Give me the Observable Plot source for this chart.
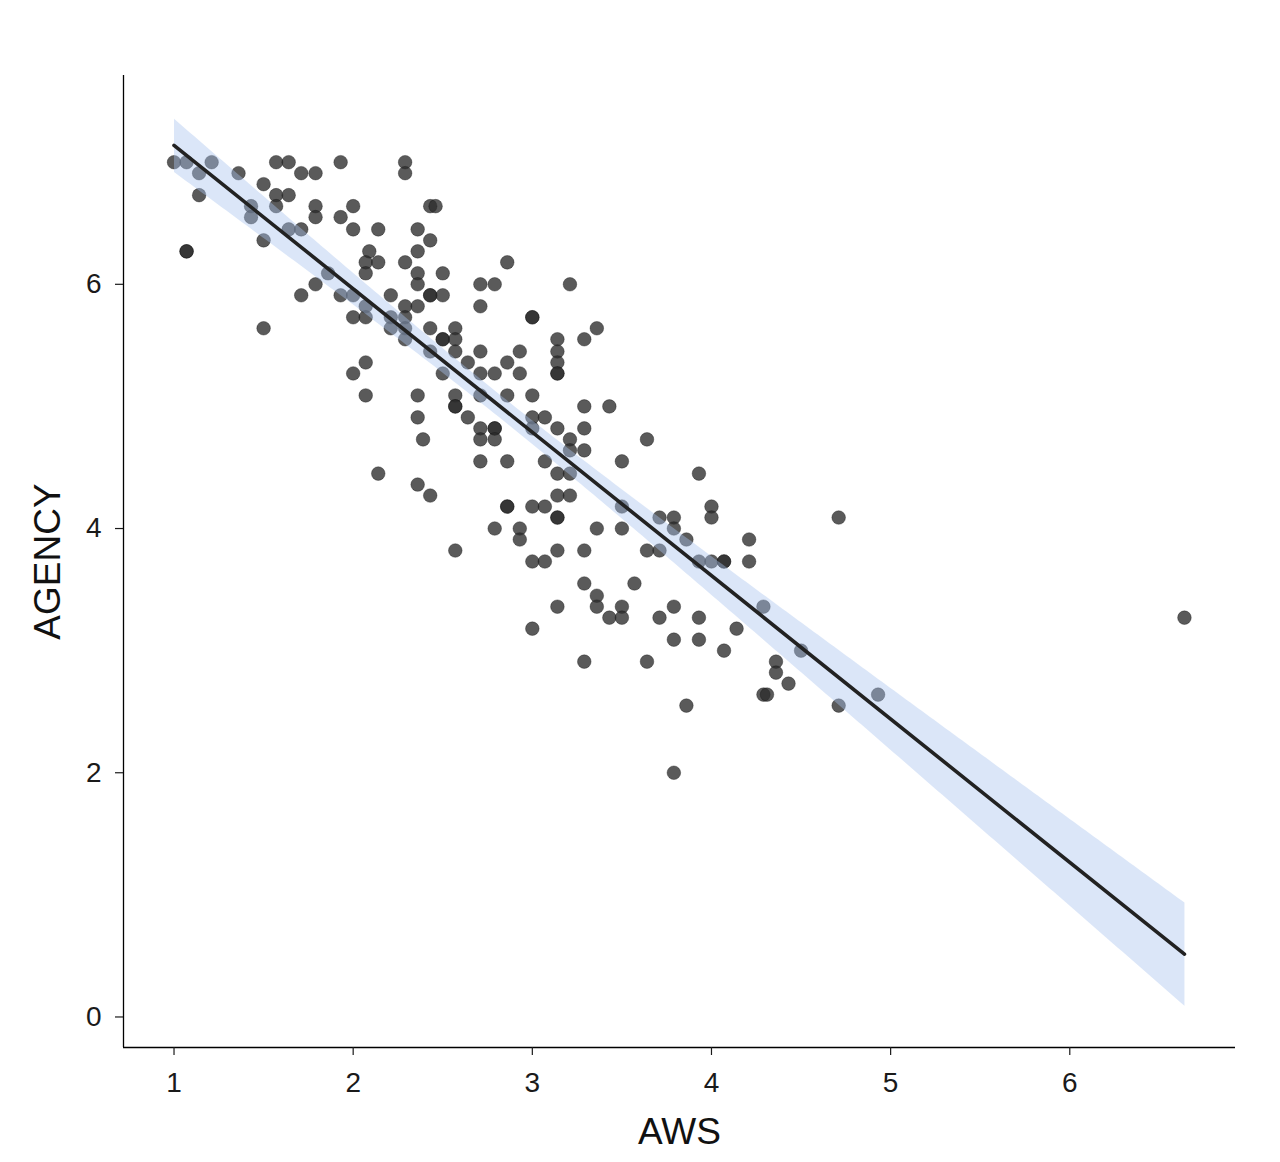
<!DOCTYPE html>
<html><head><meta charset="utf-8">
<script src="https://cdn.jsdelivr.net/npm/d3@7"></script>
<script src="https://cdn.jsdelivr.net/npm/@observablehq/plot@0.6"></script>
<style>body{margin:0;background:#fff;}</style>
</head><body><div id="chart"></div>
<script>
// AWS (x) and AGENCY (y) values
const aws = [
1.00,1.07,1.21,1.14,1.36,1.14,1.07,1.07,1.50,1.57,
1.64,1.71,1.79,1.93,1.57,1.64,1.43,1.57,1.79,1.79,
1.43,1.93,2.00,1.64,1.71,2.00,2.14,1.50,2.09,2.07,
2.14,2.07,2.29,1.86,1.79,1.71,1.93,2.00,2.07,2.21,
2.00,2.07,2.21,2.21,1.50,2.07,2.29,2.29,2.43,2.46,
2.36,2.43,2.36,2.36,2.50,2.36,2.43,2.43,2.50,2.29,
2.36,2.86,2.71,2.79,3.21,2.71,3.00,3.00,2.29,2.43,
2.57,2.50,2.50,2.57,2.57,2.71,2.93,3.14,3.14,3.29,
3.36,2.29,2.29,2.43,3.14,3.14,3.14,2.64,2.86,2.50,
2.71,2.79,2.93,2.36,2.57,2.57,2.57,2.71,2.86,3.00,
3.29,3.43,2.36,2.64,3.00,3.07,3.00,2.71,2.79,2.79,
3.14,3.29,2.39,2.71,2.79,3.21,3.21,3.29,2.71,2.86,
3.07,3.50,3.14,3.21,3.64,2.36,2.43,3.14,3.21,3.50,
2.86,2.86,3.00,3.07,3.14,3.14,2.79,2.93,2.93,3.36,
3.50,2.57,3.14,3.29,3.00,3.07,2.00,2.07,2.14,3.93,
4.00,4.00,4.71,3.71,3.79,3.79,3.86,4.21,3.64,3.71,
3.93,4.00,4.07,4.07,4.21,3.29,3.57,3.36,3.36,3.14,
3.50,3.43,3.50,3.00,3.29,3.64,3.79,3.71,3.93,4.29,
4.14,3.79,3.93,4.07,4.50,4.36,4.36,4.43,4.29,4.31,
3.86,4.71,4.93,3.79,6.64
];
const agency = [
7.00,7.00,7.00,6.91,6.91,6.73,6.27,6.27,6.82,7.00,
7.00,6.91,6.91,7.00,6.73,6.73,6.64,6.64,6.64,6.55,
6.55,6.55,6.64,6.45,6.45,6.45,6.45,6.36,6.27,6.18,
6.18,6.09,6.18,6.09,6.00,5.91,5.91,5.91,5.82,5.91,
5.73,5.73,5.73,5.64,5.64,5.36,7.00,6.91,6.64,6.64,
6.45,6.36,6.27,6.09,6.09,6.00,5.91,5.91,5.91,5.82,
5.82,6.18,6.00,6.00,6.00,5.82,5.73,5.73,5.73,5.64,
5.64,5.55,5.55,5.55,5.45,5.45,5.45,5.55,5.45,5.55,
5.64,5.64,5.55,5.45,5.36,5.27,5.27,5.36,5.36,5.27,
5.27,5.27,5.27,5.09,5.09,5.00,5.00,5.09,5.09,5.09,
5.00,5.00,4.91,4.91,4.91,4.91,4.82,4.82,4.82,4.82,
4.82,4.82,4.73,4.73,4.73,4.73,4.64,4.64,4.55,4.55,
4.55,4.55,4.45,4.45,4.73,4.36,4.27,4.27,4.27,4.18,
4.18,4.18,4.18,4.18,4.09,4.09,4.00,4.00,3.91,4.00,
4.00,3.82,3.82,3.82,3.73,3.73,5.27,5.09,4.45,4.45,
4.18,4.09,4.09,4.09,4.09,4.00,3.91,3.91,3.82,3.82,
3.73,3.73,3.73,3.73,3.73,3.55,3.55,3.45,3.36,3.36,
3.36,3.27,3.27,3.18,2.91,2.91,3.36,3.27,3.27,3.36,
3.18,3.09,3.09,3.00,3.00,2.91,2.82,2.73,2.64,2.64,
2.55,2.55,2.64,2.00,3.27
];
const xTicks = [1, 2, 3, 4, 5, 6];
const yTicks = [0, 2, 4, 6];
const xLabel = "AWS";
const yLabel = "AGENCY";

const data = aws.map((x, i) => ({AWS: x, AGENCY: agency[i]}));
const xDomain = [0.718, 6.925];
const yDomain = [-0.25, 7.71];

const chart = Plot.plot({
  width: 1280, height: 1162,
  marginLeft: 123, marginRight: 45, marginTop: 75, marginBottom: 115,
  style: {fontFamily: "'Liberation Sans', Arial, sans-serif", background: "#fff", color: "#1a1a1a"},
  x: {domain: xDomain},
  y: {domain: yDomain},
  marks: [
    Plot.dot(data, {x: "AWS", y: "AGENCY", r: 6.8, fill: "#2b2b2b", fillOpacity: 0.78, stroke: "#111", strokeOpacity: 0.45, strokeWidth: 0.8}),
    Plot.linearRegressionY(data, {x: "AWS", y: "AGENCY", stroke: "#222", strokeWidth: 3.6, fill: "#a9c4ee", fillOpacity: 0.42}),
    Plot.ruleX([xDomain[0]], {stroke: "#000", strokeWidth: 1.3}),
    Plot.ruleY([yDomain[0]], {stroke: "#000", strokeWidth: 1.3}),
    Plot.axisX({ticks: xTicks, tickFormat: d => String(d), tickSize: 8, tickPadding: 17, fontSize: 28, label: null, strokeWidth: 1.2}),
    Plot.axisY({ticks: yTicks, tickFormat: d => String(d), tickSize: 8, tickPadding: 14, fontSize: 28, label: null, strokeWidth: 1.2}),
    Plot.text([xLabel], {text: d => d, frameAnchor: "bottom", dy: 85, fontSize: 37, lineAnchor: "middle", textAnchor: "middle", fill: "#111"}),
    Plot.text([yLabel], {text: d => d, frameAnchor: "left", dx: -75, rotate: -90, fontSize: 37, lineAnchor: "middle", textAnchor: "middle", fill: "#111"})
  ]
});
document.getElementById("chart").appendChild(chart);
</script>
</body></html>
